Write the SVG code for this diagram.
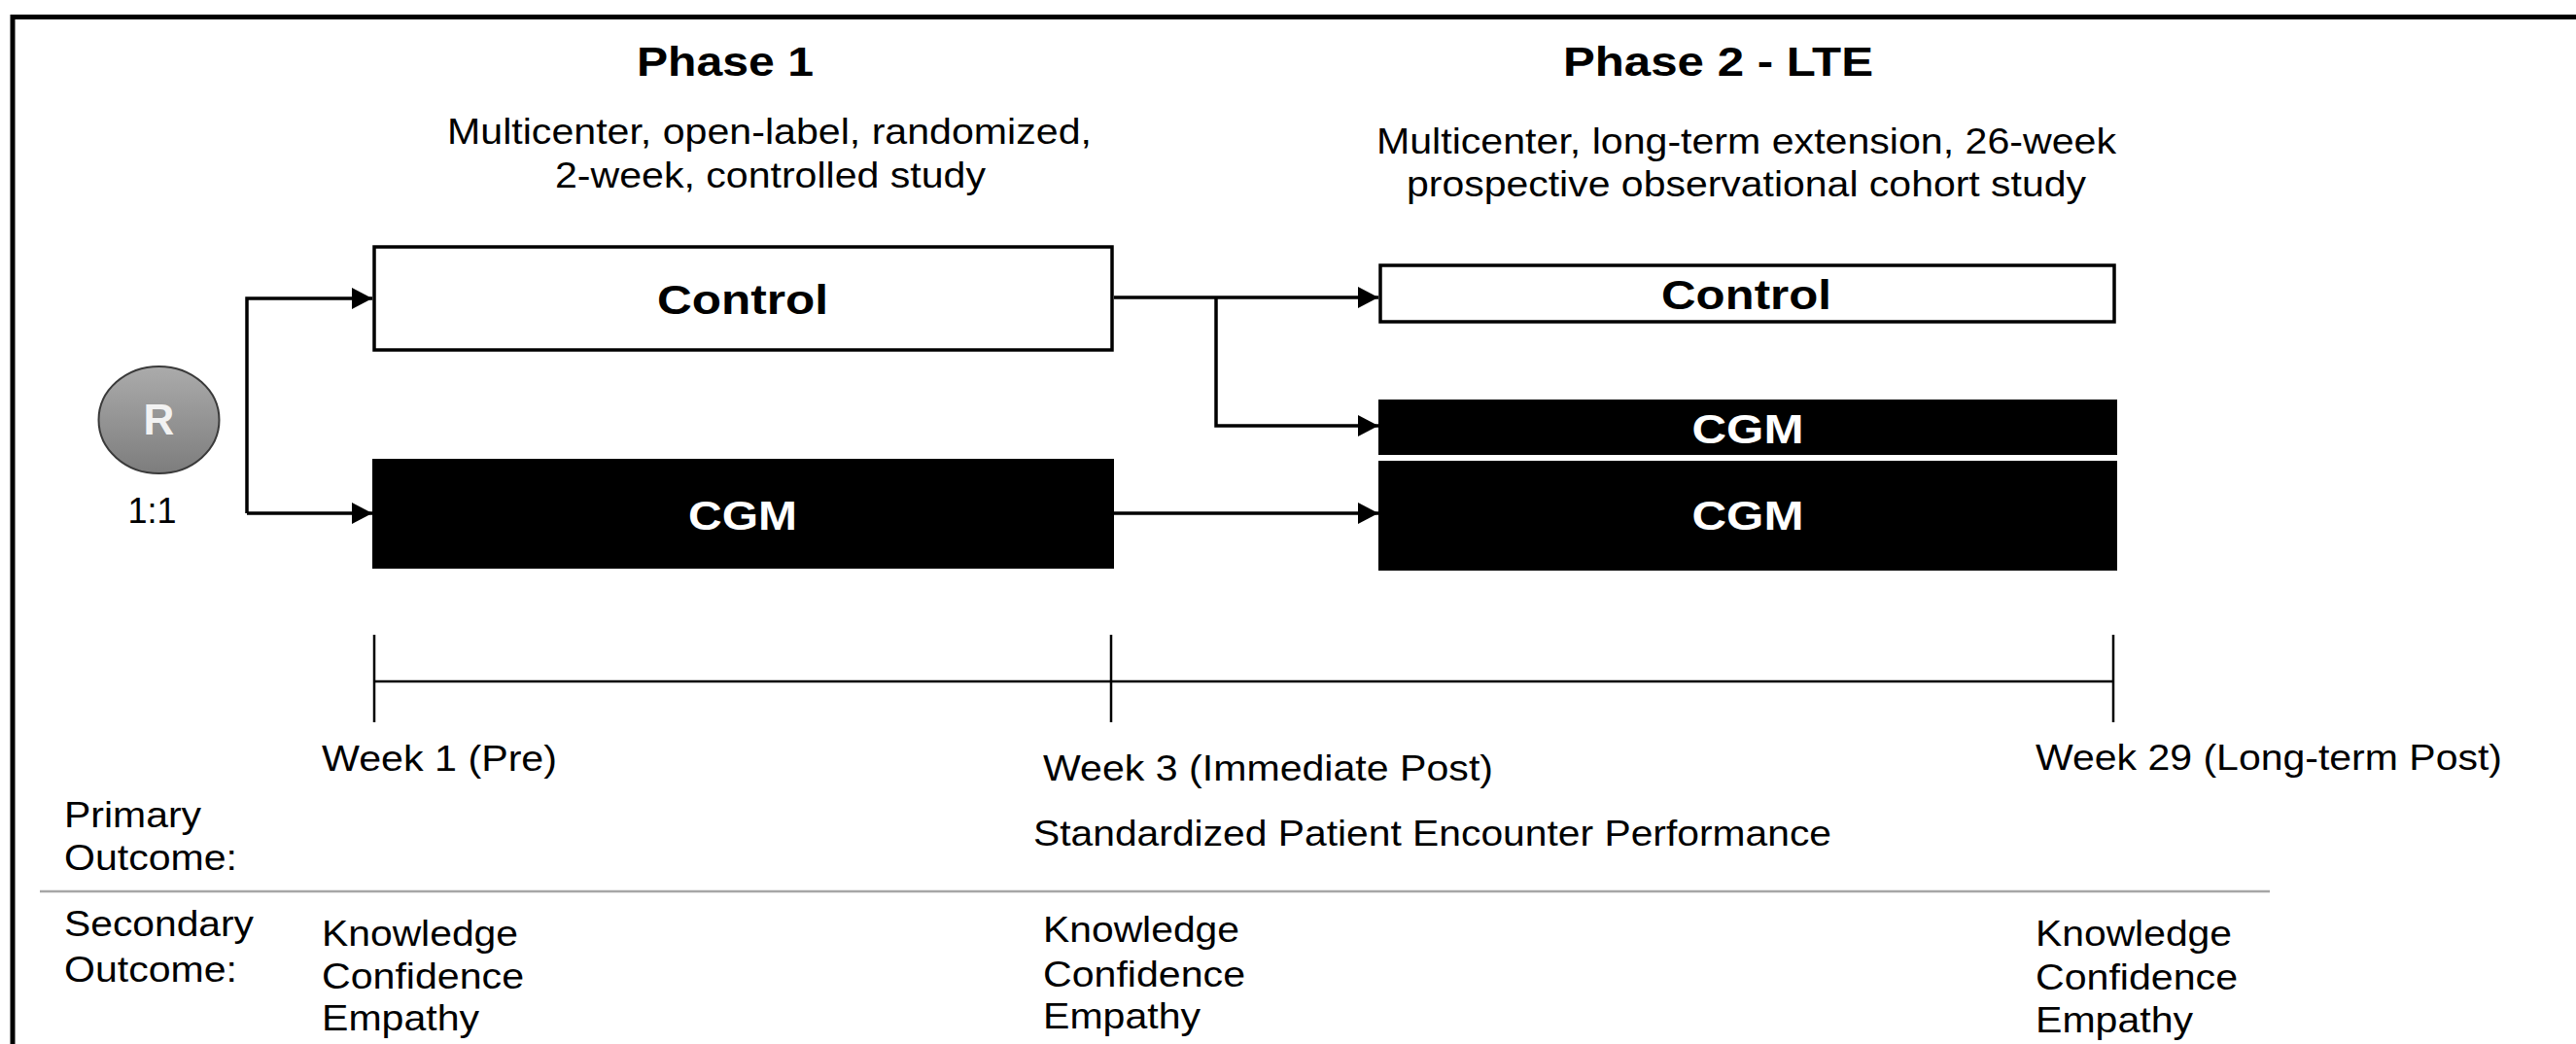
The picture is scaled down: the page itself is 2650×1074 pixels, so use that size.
<svg xmlns="http://www.w3.org/2000/svg" width="2650" height="1074" viewBox="0 0 2650 1074">
<style>
text{font-family:"Liberation Sans",Arial,Helvetica,sans-serif;fill:#000}
.h{font-size:43px;font-weight:bold}
.b{font-size:37.5px}
.lbl{font-size:42px;font-weight:bold}
.w{fill:#fff}
.c{text-anchor:middle}
.conn{fill:none;stroke:#000;stroke-width:3.5}
.box{fill:#fff;stroke:#000;stroke-width:3.5}
.dark{fill:#000}
.tl{stroke:#000;stroke-width:2.5;fill:none}
</style>
<defs>
<marker id="arr" markerUnits="userSpaceOnUse" markerWidth="22" markerHeight="24" refX="21" refY="11" orient="auto">
<path d="M0,0 L21,11 L0,22 Z" fill="#000"/>
</marker>
<linearGradient id="rg" x1="0" y1="0" x2="0" y2="1">
<stop offset="0" stop-color="#ababab"/>
<stop offset="1" stop-color="#7d7d7d"/>
</linearGradient>
</defs>
<rect width="2650" height="1074" fill="#fff"/>
<path id="frame" d="M13 1074 V17.5 H2650" fill="none" stroke="#000" stroke-width="5"/>

<g id="headings">
<text class="h c" x="746" y="78" textLength="182" lengthAdjust="spacingAndGlyphs">Phase 1</text>
<text class="h c" x="1767.5" y="78" textLength="319" lengthAdjust="spacingAndGlyphs">Phase 2 - LTE</text>
<text class="b c" x="791.5" y="148" textLength="663" lengthAdjust="spacingAndGlyphs">Multicenter, open-label, randomized,</text>
<text class="b c" x="792.5" y="193" textLength="443" lengthAdjust="spacingAndGlyphs">2-week, controlled study</text>
<text class="b c" x="1796.5" y="158" textLength="761" lengthAdjust="spacingAndGlyphs">Multicenter, long-term extension, 26-week</text>
<text class="b c" x="1796.5" y="202" textLength="699" lengthAdjust="spacingAndGlyphs">prospective observational cohort study</text>
</g>

<g id="node-R">
<ellipse cx="163.5" cy="432" rx="62" ry="55" fill="url(#rg)" stroke="#3a3a3a" stroke-width="2"/>
<text x="163.5" y="447" class="c" style="font-size:44px;font-weight:bold;fill:#f2f2f2">R</text>
<text x="156.5" y="538" class="c" style="font-size:36px">1:1</text>
</g>

<g id="node-control-p1">
<rect class="box" x="385" y="254" width="759" height="106"/>
<text class="lbl c" x="764" y="323" textLength="176" lengthAdjust="spacingAndGlyphs">Control</text>
</g>
<g id="node-cgm-p1">
<rect class="dark" x="383" y="472" width="763" height="113"/>
<text class="lbl c w" x="764" y="545" textLength="112" lengthAdjust="spacingAndGlyphs">CGM</text>
</g>
<g id="node-control-p2">
<rect class="box" x="1420" y="273" width="755" height="58"/>
<text class="lbl c" x="1796.5" y="318" textLength="175" lengthAdjust="spacingAndGlyphs">Control</text>
</g>
<g id="node-cgm-p2-switch">
<rect class="dark" x="1418" y="411" width="760" height="57"/>
<text class="lbl c w" x="1798" y="456" textLength="115" lengthAdjust="spacingAndGlyphs">CGM</text>
</g>
<g id="node-cgm-p2">
<rect class="dark" x="1418" y="474" width="760" height="113"/>
<text class="lbl c w" x="1798" y="545" textLength="115" lengthAdjust="spacingAndGlyphs">CGM</text>
</g>

<g id="connectors">
<path class="conn" d="M254 528 V307 H383" marker-end="url(#arr)"/>
<path class="conn" d="M254 528 H383" marker-end="url(#arr)"/>
<path class="conn" d="M1146 306 H1418" marker-end="url(#arr)"/>
<path class="conn" d="M1251 306 V438 H1418" marker-end="url(#arr)"/>
<path class="conn" d="M1146 528 H1418" marker-end="url(#arr)"/>
</g>

<g id="timeline">
<path class="tl" d="M385 701 H2174 M385 653 V743 M1143 653 V743 M2174 653 V743"/>
<text class="b" x="331" y="793" textLength="242" lengthAdjust="spacingAndGlyphs">Week 1 (Pre)</text>
<text class="b" x="1073" y="803" textLength="463" lengthAdjust="spacingAndGlyphs">Week 3 (Immediate Post)</text>
<text class="b" x="2094" y="792" textLength="480" lengthAdjust="spacingAndGlyphs">Week 29 (Long-term Post)</text>
</g>

<g id="outcomes">
<text class="b" x="66" y="851" textLength="141" lengthAdjust="spacingAndGlyphs">Primary</text>
<text class="b" x="66" y="895" textLength="178" lengthAdjust="spacingAndGlyphs">Outcome:</text>
<text class="b" x="1063" y="870" textLength="821" lengthAdjust="spacingAndGlyphs">Standardized Patient Encounter Performance</text>
<path d="M41 917 H2335" stroke="#a6a6a6" stroke-width="2.5" fill="none"/>
<text class="b" x="66" y="963" textLength="195" lengthAdjust="spacingAndGlyphs">Secondary</text>
<text class="b" x="66" y="1010" textLength="178" lengthAdjust="spacingAndGlyphs">Outcome:</text>
<text class="b" x="331" y="973" textLength="202" lengthAdjust="spacingAndGlyphs">Knowledge</text>
<text class="b" x="331" y="1017" textLength="208" lengthAdjust="spacingAndGlyphs">Confidence</text>
<text class="b" x="331" y="1060" textLength="162" lengthAdjust="spacingAndGlyphs">Empathy</text>
<text class="b" x="1073" y="969" textLength="202" lengthAdjust="spacingAndGlyphs">Knowledge</text>
<text class="b" x="1073" y="1015" textLength="208" lengthAdjust="spacingAndGlyphs">Confidence</text>
<text class="b" x="1073" y="1058" textLength="162" lengthAdjust="spacingAndGlyphs">Empathy</text>
<text class="b" x="2094" y="973" textLength="202" lengthAdjust="spacingAndGlyphs">Knowledge</text>
<text class="b" x="2094" y="1018" textLength="208" lengthAdjust="spacingAndGlyphs">Confidence</text>
<text class="b" x="2094" y="1062" textLength="162" lengthAdjust="spacingAndGlyphs">Empathy</text>
</g>
</svg>
